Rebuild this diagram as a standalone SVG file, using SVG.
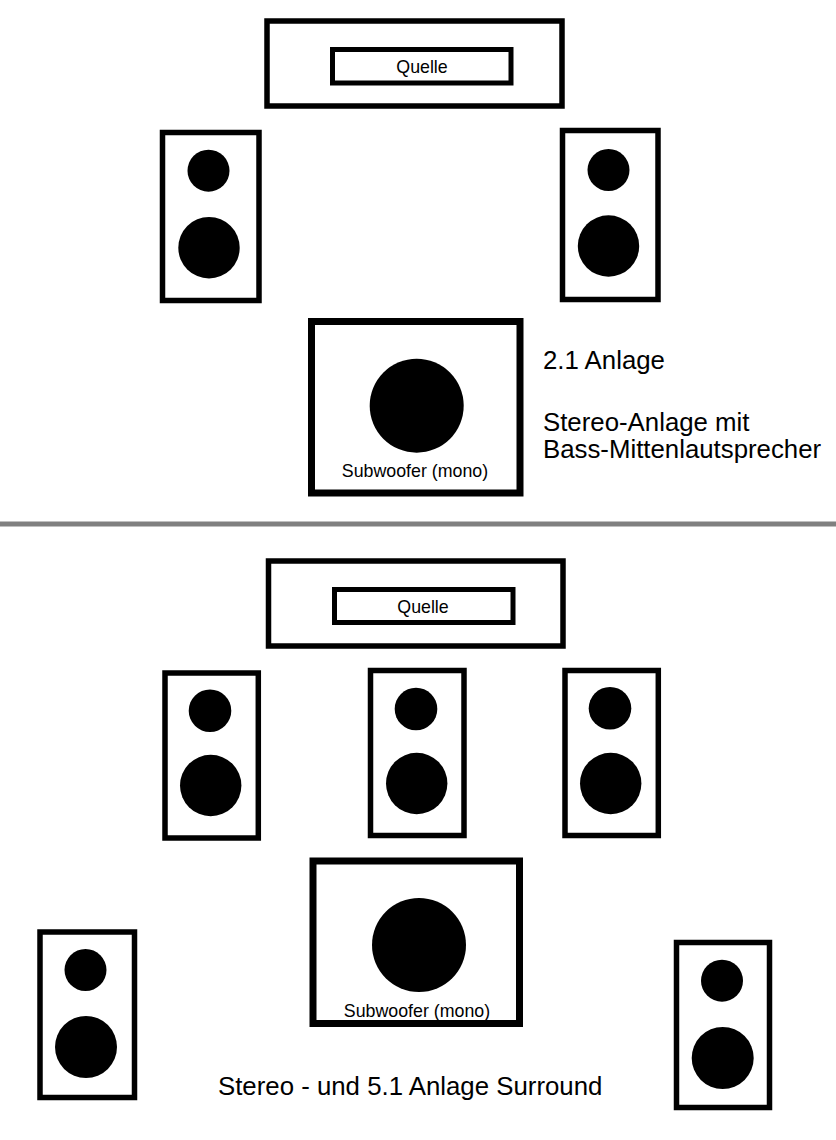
<svg xmlns="http://www.w3.org/2000/svg" width="836" height="1140" viewBox="0 0 836 1140">
<style>
.box{fill:#fff;stroke:#000;stroke-width:5.5}
.sub{fill:#fff;stroke:#000;stroke-width:7}
.inner{fill:#fff;stroke:#000;stroke-width:5}
.cone{fill:#000}
text{font-family:"Liberation Sans",Arial,sans-serif;fill:#000}
.lbl{font-size:17.8px;text-anchor:middle}
.cap{font-size:25.8px}
</style>
<rect width="836" height="1140" fill="#fff"/>
<g id="top-system">
  <g id="quelle-1">
    <rect class="box" x="267" y="21" width="295" height="85"/>
    <rect class="inner" x="332.5" y="49.5" width="178.5" height="33.5"/>
    <text class="lbl" x="422" y="73">Quelle</text>
  </g>
  <g id="speaker-left-1">
    <rect class="box" x="162.5" y="132.5" width="96.5" height="168"/>
    <circle class="cone" cx="208.5" cy="170.7" r="21"/>
    <circle class="cone" cx="209" cy="247.7" r="30.7"/>
  </g>
  <g id="speaker-right-1">
    <rect class="box" x="562.5" y="130.5" width="95.5" height="169"/>
    <circle class="cone" cx="608.5" cy="170" r="21"/>
    <circle class="cone" cx="608.5" cy="246" r="30.7"/>
  </g>
  <g id="subwoofer-1">
    <rect class="sub" x="311.5" y="321.5" width="208.5" height="171.5"/>
    <circle class="cone" cx="416.7" cy="405.7" r="47"/>
    <text class="lbl" x="415" y="476.7">Subwoofer (mono)</text>
  </g>
  <g id="caption-1">
    <text class="cap" x="543" y="369">2.1 Anlage</text>
    <text class="cap" x="543" y="430.5">Stereo-Anlage mit</text>
    <text class="cap" x="543" y="458">Bass-Mittenlautsprecher</text>
  </g>
</g>
<rect id="separator" x="0" y="521.5" width="836" height="5" fill="#808080"/>
<g id="bottom-system">
  <g id="quelle-2">
    <rect class="box" x="268.5" y="561" width="294.5" height="85"/>
    <rect class="inner" x="334.5" y="589.5" width="178.5" height="33"/>
    <text class="lbl" x="423" y="612.5">Quelle</text>
  </g>
  <g id="speaker-front-left">
    <rect class="box" x="165" y="673" width="93.3" height="165"/>
    <circle class="cone" cx="210" cy="710.7" r="21.3"/>
    <circle class="cone" cx="210.7" cy="785.5" r="30.7"/>
  </g>
  <g id="speaker-center">
    <rect class="box" x="370.5" y="670.5" width="93.5" height="165"/>
    <circle class="cone" cx="416" cy="709" r="21.3"/>
    <circle class="cone" cx="416.7" cy="783.5" r="30.7"/>
  </g>
  <g id="speaker-front-right">
    <rect class="box" x="565" y="670.5" width="93.3" height="165"/>
    <circle class="cone" cx="610" cy="708.3" r="21.3"/>
    <circle class="cone" cx="610.7" cy="783.5" r="30.7"/>
  </g>
  <g id="subwoofer-2">
    <rect class="sub" x="313" y="861" width="206.5" height="162.5"/>
    <circle class="cone" cx="419" cy="945" r="47"/>
    <text class="lbl" x="417" y="1016.7">Subwoofer (mono)</text>
  </g>
  <g id="speaker-rear-left">
    <rect class="box" x="40" y="932" width="94.5" height="165.5"/>
    <circle class="cone" cx="85.5" cy="970" r="21"/>
    <circle class="cone" cx="86" cy="1047" r="31"/>
  </g>
  <g id="speaker-rear-right">
    <rect class="box" x="676.5" y="942.5" width="93" height="165"/>
    <circle class="cone" cx="722" cy="980.7" r="21"/>
    <circle class="cone" cx="722.7" cy="1058" r="31"/>
  </g>
  <g id="caption-2">
    <text class="cap" x="218" y="1094.5">Stereo - und 5.1 Anlage Surround</text>
  </g>
</g>
<g id="connectors"/>
</svg>
